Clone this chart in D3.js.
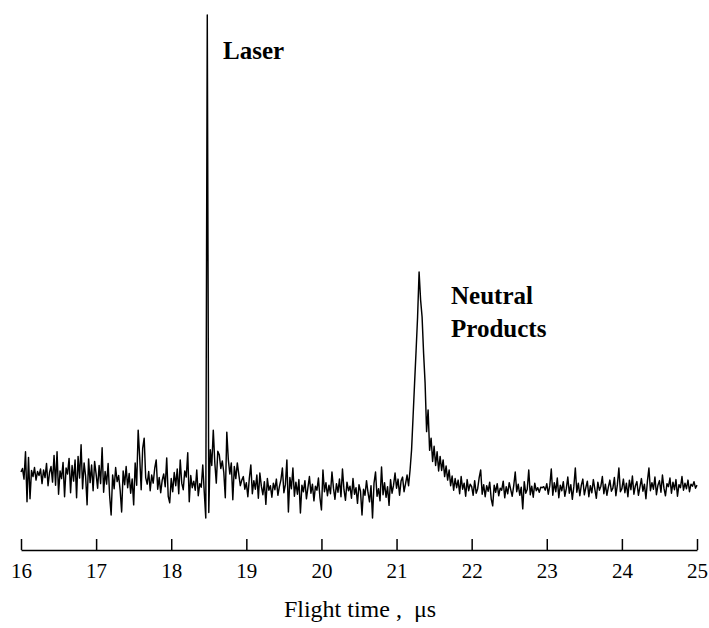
<!DOCTYPE html>
<html>
<head>
<meta charset="utf-8">
<script src="https://cdn.jsdelivr.net/npm/d3@7"></script>
<style>
  body { margin: 0; background: #fff; }
  svg { display: block; font-family: "Liberation Serif", "Times New Roman", serif; }
  .trace { fill: none; stroke: #000; stroke-width: 1.45; stroke-linejoin: round; }
  .x.axis path, .x.axis line { stroke: #000; stroke-width: 1.5; }
  .x.axis text { font-size: 21px; fill: #000; font-family: "Liberation Serif", "Times New Roman", serif; }
  .note { font-size: 25px; font-weight: bold; fill: #000; }
  .title { font-size: 24px; fill: #000; }
</style>
</head>
<body>
<svg width="709" height="628"></svg>
<script>
// signal, one sample every 0.02 us, one array per microsecond
var step = 0.02;
var segStarts = [16, 17, 18, 19, 20, 21, 22, 23, 24];

var s16 = [9.5, 10.2, 8.1, 13.5, 3.6, 12.4, 4.2, 9.8, 8.6, 10.4, 7.9, 9.6, 8.8, 10.1, 7.2, 9.9, 8.4, 11.2, 6.8, 9.4,
           10.6, 7.5, 12.8, 6.9, 13.5, 5.1, 9.7, 8.2, 11.4, 4.6, 10.3, 9.1, 12.2, 5.4, 10.8, 7.7, 11.9, 4.4, 12.6, 8.3,
           14.9, 6.2, 11.3, 8.7, 3.0, 12.1, 7.4, 10.9, 5.8, 11.6];
var s17 = [9.1, 6.3, 10.8, 7.2, 14.3, 5.5, 9.6, 7.1, 11.2, 4.8, 1.0, 8.9, 6.2, 10.4, 7.6, 8.8, 5.9, 1.6, 9.7, 7.0,
           10.6, 6.4, 9.2, 5.3, 8.1, 3.0, 11.3, 6.9, 17.8, 12.5, 6.0, 14.2, 16.2, 8.4, 7.1, 9.6, 5.8, 8.9, 7.3, 10.2,
           11.9, 6.1, 8.4, 5.4, 7.9, 9.1, 6.6, 12.3, 4.7, 3.4];
var s18 = [8.2, 5.6, 9.4, 6.8, 10.1, 5.2, 11.9, 7.3, 6.0, 9.7, 8.5, 13.3, 3.6, 8.8, 6.4, 7.7, 5.9, 9.9, 4.8, 7.2,
           6.5, 10.9, 5.5, 0.4, 100, 1.5, 13.9, 10.8, 17.8, 11.4, 7.3, 13.6, 12.9, 10.2, 11.7, 9.4, 4.4, 17.4, 12.0, 9.1,
           11.3, 4.0, 10.6, 8.2, 11.3, 9.0, 6.8, 7.9, 8.6, 6.1];
var s19 = [7.4, 4.6, 8.3, 10.9, 5.2, 7.8, 6.1, 8.9, 4.3, 9.3, 6.7, 5.0, 7.6, 3.1, 8.2, 5.9, 6.8, 4.5, 7.3, 6.0,
           8.1, 4.9, 6.6, 7.9, 10.3, 5.4, 7.0, 11.9, 1.6, 8.4, 6.2, 10.3, 4.7, 7.5, 5.1, 8.0, 1.4, 6.9, 5.6, 7.8,
           4.2, 6.4, 8.6, 5.3, 7.1, 3.8, 6.7, 5.9, 8.3, 4.4];
var s20 = [2.0, 9.9, 5.6, 7.4, 4.8, 6.9, 5.2, 9.5, 6.3, 4.1, 7.2, 5.5, 8.1, 4.6, 10.1, 6.0, 3.9, 7.5, 5.8, 6.7,
           4.3, 8.2, 5.1, 6.4, 3.3, 7.0, 5.7, 1.0, 6.1, 4.9, 7.8, 5.4, 3.6, 6.8, 0.4, 7.3, 9.5, 4.7, 6.2, 3.8,
           10.5, 5.0, 7.4, 4.5, 6.6, 2.9, 8.0, 5.3, 6.9, 9.3];
var s21 = [6.3, 8.1, 4.9, 7.7, 8.5, 5.6, 7.2, 8.9, 6.8, 9.9, 13.9, 20.5, 27.1, 33.5, 40.2, 49.1, 43.6, 40.2, 33.0, 27.1,
           17.5, 21.8, 13.8, 16.2, 11.6, 14.6, 10.8, 13.5, 9.7, 12.6, 9.8, 11.9, 8.6, 10.7, 7.9, 9.9, 6.8, 8.7, 5.9, 8.2,
           6.4, 7.9, 5.2, 8.6, 6.1, 7.3, 4.7, 8.0, 5.8, 7.1];
var s22 = [6.6, 4.9, 7.8, 5.3, 6.2, 8.4, 9.9, 5.1, 7.0, 4.6, 6.8, 5.7, 7.5, 4.2, 2.8, 6.9, 5.5, 7.2, 4.8, 6.3,
           5.9, 7.7, 4.4, 6.6, 5.2, 7.4, 6.0, 4.7, 6.8, 9.5, 5.6, 7.1, 4.9, 6.5, 2.2, 7.6, 5.3, 6.1, 9.9, 5.0,
           6.7, 4.5, 7.3, 5.8, 6.4, 5.5, 6.5, 6.4, 6.6, 5.9];
var s23 = [7.2, 5.1, 6.8, 10.1, 4.9, 7.4, 5.6, 8.3, 4.4, 6.9, 5.8, 7.6, 4.7, 6.2, 8.5, 5.3, 7.0, 4.1, 6.6, 10.3,
           5.5, 7.3, 4.8, 6.9, 8.1, 5.0, 6.4, 7.7, 4.6, 6.8, 5.4, 8.0, 6.1, 4.3, 7.5, 5.9, 6.7, 8.6, 5.2, 7.1,
           4.9, 6.5, 7.9, 5.7, 6.3, 8.4, 4.8, 7.0, 10.3, 5.6];
var s24 = [6.2, 8.1, 5.4, 7.3, 4.6, 7.9, 6.0, 8.7, 5.1, 6.8, 7.6, 4.9, 6.5, 8.2, 5.7, 7.1, 4.2, 7.7, 10.3, 5.8,
           7.4, 6.1, 8.5, 5.0, 6.9, 7.8, 5.5, 8.9, 6.3, 4.8, 7.2, 6.6, 8.3, 5.3, 7.5, 6.0, 8.0, 4.7, 7.0, 6.4,
           8.6, 5.9, 7.3, 6.2, 7.9, 5.6, 7.1, 6.7, 7.6, 6.3];
var lastValue = 6.9; // at 25.00

var xTicks = [16, 17, 18, 19, 20, 21, 22, 23, 24, 25];

var notes = [
  {text: "Laser",    t: 18.69, v: 91.3},
  {text: "Neutral",  t: 21.725, v: 42.8},
  {text: "Products", t: 21.725, v: 36.2}
];

var svg = d3.select("svg");

var x = d3.scaleLinear().domain([16, 25]).range([21, 697]);
var y = d3.scaleLinear().domain([0, 100]).range([520, 15]);

var data = [];
[s16, s17, s18, s19, s20, s21, s22, s23, s24].forEach(function(seg, k) {
  seg.forEach(function(v, i) {
    data.push({t: segStarts[k] + i * step, v: v});
  });
});
data.push({t: 25, v: lastValue});

var line = d3.line()
    .x(function(d) { return x(d.t); })
    .y(function(d) { return y(d.v); });

svg.append("path")
    .datum(data)
    .attr("class", "trace")
    .attr("d", line);

// axis: ticks point up, labels below
svg.append("g")
    .attr("class", "x axis")
    .attr("transform", "translate(0,550)")
    .call(d3.axisBottom(x)
      .tickValues(xTicks)
      .tickFormat(d3.format("d"))
      .tickSizeInner(-11)
      .tickSizeOuter(0)
      .tickPadding(13));

svg.append("text")
    .attr("class", "title")
    .attr("x", 360)
    .attr("y", 617)
    .attr("text-anchor", "middle")
    .style("white-space", "pre")
    .text("Flight time ,  \u03bcs");

svg.selectAll(".note")
    .data(notes)
  .enter().append("text")
    .attr("class", "note")
    .attr("x", function(d) { return x(d.t); })
    .attr("y", function(d) { return y(d.v); })
    .text(function(d) { return d.text; });
</script>
</body>
</html>
